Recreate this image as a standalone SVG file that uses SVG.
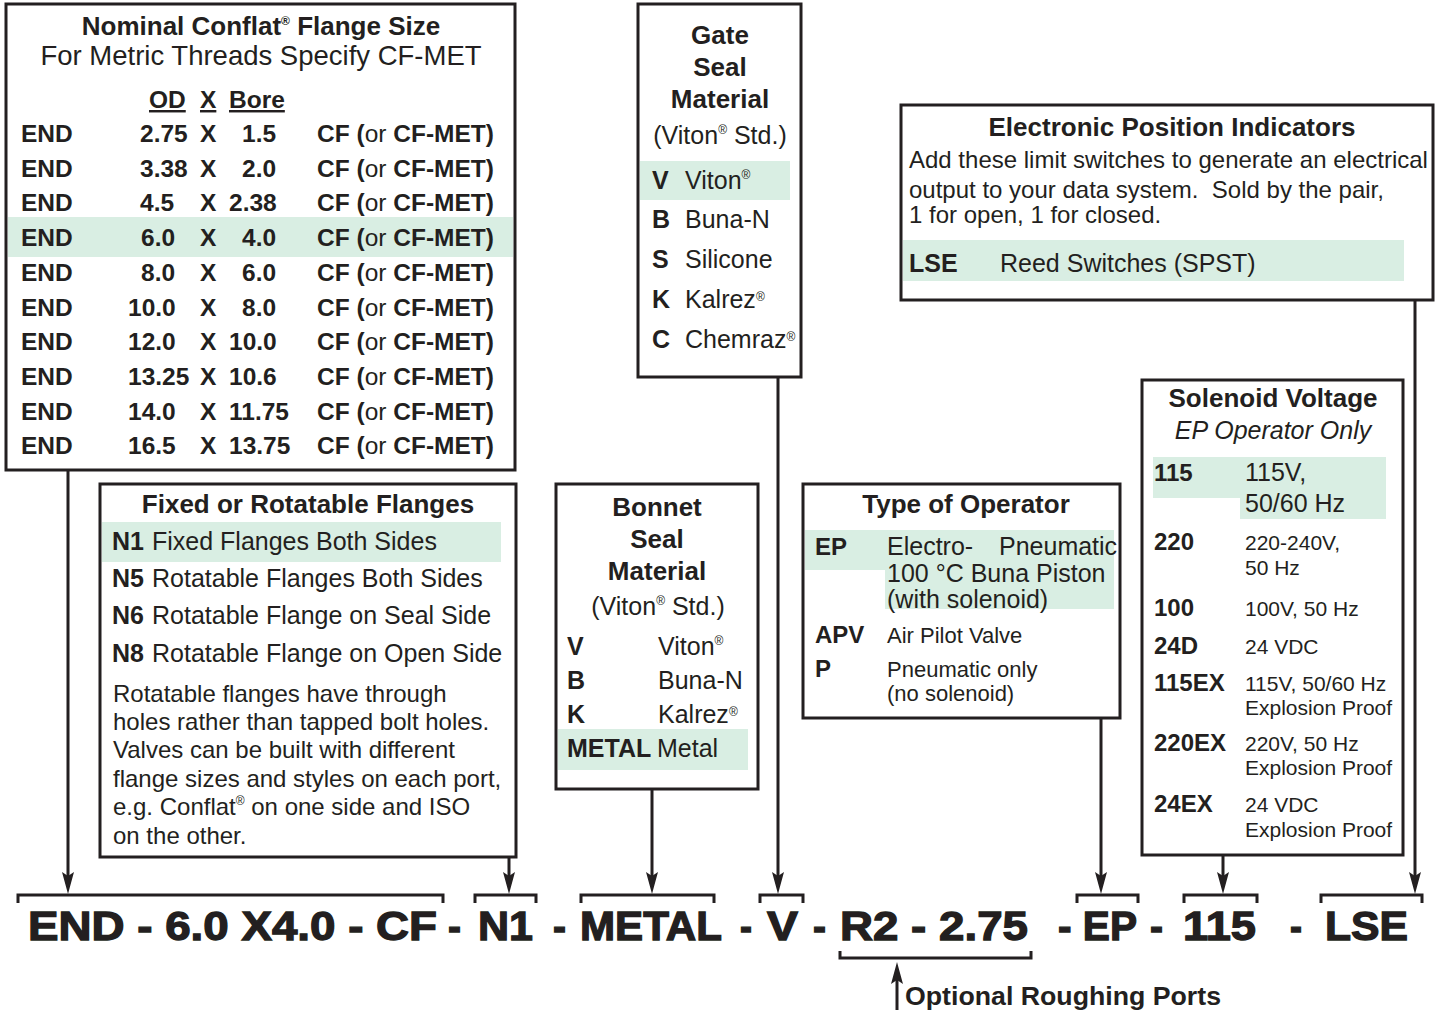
<svg xmlns="http://www.w3.org/2000/svg" width="1444" height="1010" viewBox="0 0 1444 1010">
<style>
.box{fill:#fff;stroke:#231f20;stroke-width:3}
.hl{fill:#d9eee3}
text{font-family:"Liberation Sans",Arial,Helvetica,sans-serif;fill:#231f20}
.b{font-weight:bold}
.n{font-weight:normal}
.ttl{font-size:26px;font-weight:bold;text-anchor:middle}
.s24{font-size:24px}
.s25{font-size:25px}
.s22{font-size:22px}
.s21{font-size:21px}
.row{font-size:24.5px;font-weight:bold}
.ul{text-decoration:underline}
.code{font-size:41px;font-weight:bold;stroke:#231f20;stroke-width:1.3}
.conn{stroke:#231f20;stroke-width:3;fill:none}
</style>
<defs>
<marker id="ah" viewBox="0 0 22 12" markerWidth="22" markerHeight="12" refX="14" refY="6" orient="auto" markerUnits="userSpaceOnUse"><path d="M0,0 L22,6 L0,12 L4,6 z" fill="#231f20"/></marker>
</defs>
<rect width="1444" height="1010" fill="#fff"/>

<g id="flange-size">
<rect class="box" x="6" y="4" width="509" height="466"/>
<rect class="hl" x="8" y="217" width="505" height="40"/>
<text class="ttl" x="261" y="35">Nominal Conflat<tspan font-size="12" dy="-10">®</tspan><tspan dy="10"> Flange Size</tspan></text>
<text x="261" y="65" text-anchor="middle" font-size="27.5px">For Metric Threads Specify CF-MET</text>
<text class="row ul" x="149" y="108">OD</text>
<text class="row ul" x="200" y="108">X</text>
<text class="row ul" x="229" y="108">Bore</text>
<g class="row">
<text y="142"><tspan x="21">END</tspan><tspan x="140">2.75</tspan><tspan x="200">X</tspan><tspan x="242">1.5</tspan><tspan x="317">CF (</tspan><tspan class="n">or</tspan><tspan> CF-MET)</tspan></text>
<text y="177"><tspan x="21">END</tspan><tspan x="140">3.38</tspan><tspan x="200">X</tspan><tspan x="242">2.0</tspan><tspan x="317">CF (</tspan><tspan class="n">or</tspan><tspan> CF-MET)</tspan></text>
<text y="211"><tspan x="21">END</tspan><tspan x="140">4.5</tspan><tspan x="200">X</tspan><tspan x="229">2.38</tspan><tspan x="317">CF (</tspan><tspan class="n">or</tspan><tspan> CF-MET)</tspan></text>
<text y="246"><tspan x="21">END</tspan><tspan x="141">6.0</tspan><tspan x="200">X</tspan><tspan x="242">4.0</tspan><tspan x="317">CF (</tspan><tspan class="n">or</tspan><tspan> CF-MET)</tspan></text>
<text y="281"><tspan x="21">END</tspan><tspan x="141">8.0</tspan><tspan x="200">X</tspan><tspan x="242">6.0</tspan><tspan x="317">CF (</tspan><tspan class="n">or</tspan><tspan> CF-MET)</tspan></text>
<text y="316"><tspan x="21">END</tspan><tspan x="128">10.0</tspan><tspan x="200">X</tspan><tspan x="242">8.0</tspan><tspan x="317">CF (</tspan><tspan class="n">or</tspan><tspan> CF-MET)</tspan></text>
<text y="350"><tspan x="21">END</tspan><tspan x="128">12.0</tspan><tspan x="200">X</tspan><tspan x="229">10.0</tspan><tspan x="317">CF (</tspan><tspan class="n">or</tspan><tspan> CF-MET)</tspan></text>
<text y="385"><tspan x="21">END</tspan><tspan x="128">13.25</tspan><tspan x="200">X</tspan><tspan x="229">10.6</tspan><tspan x="317">CF (</tspan><tspan class="n">or</tspan><tspan> CF-MET)</tspan></text>
<text y="420"><tspan x="21">END</tspan><tspan x="128">14.0</tspan><tspan x="200">X</tspan><tspan x="229">11.75</tspan><tspan x="317">CF (</tspan><tspan class="n">or</tspan><tspan> CF-MET)</tspan></text>
<text y="454"><tspan x="21">END</tspan><tspan x="128">16.5</tspan><tspan x="200">X</tspan><tspan x="229">13.75</tspan><tspan x="317">CF (</tspan><tspan class="n">or</tspan><tspan> CF-MET)</tspan></text>
</g>
</g>

<g id="gate-seal">
<rect class="box" x="638" y="4" width="163" height="373"/>
<rect class="hl" x="640" y="161" width="150" height="39"/>
<text class="ttl" x="720" y="44">Gate</text>
<text class="ttl" x="720" y="76">Seal</text>
<text class="ttl" x="720" y="108">Material</text>
<text class="s25" x="720" y="144" text-anchor="middle">(Viton<tspan font-size="12" dy="-10">®</tspan><tspan dy="10"> Std.)</tspan></text>
<g class="s25">
<text y="189"><tspan x="652" class="b">V</tspan><tspan x="685">Viton</tspan><tspan font-size="12" dy="-10">®</tspan></text>
<text y="228"><tspan x="652" class="b">B</tspan><tspan x="685">Buna-N</tspan></text>
<text y="268"><tspan x="652" class="b">S</tspan><tspan x="685">Silicone</tspan></text>
<text y="308"><tspan x="652" class="b">K</tspan><tspan x="685">Kalrez</tspan><tspan font-size="12" dy="-7">®</tspan></text>
<text y="348"><tspan x="652" class="b">C</tspan><tspan x="685">Chemraz</tspan><tspan font-size="12" dy="-7">®</tspan></text>
</g>
</g>

<g id="position-indicators">
<rect class="box" x="901" y="105" width="532" height="195"/>
<rect class="hl" x="903" y="240" width="501" height="41"/>
<text class="ttl" x="1172" y="136">Electronic Position Indicators</text>
<g class="s24">
<text x="909" y="168">Add these limit switches to generate an electrical</text>
<text x="909" y="198" xml:space="preserve">output to your data system.  Sold by the pair,</text>
<text x="909" y="223">1 for open, 1 for closed.</text>
</g>
<text class="s25" y="272"><tspan x="909" class="b">LSE</tspan><tspan x="1000">Reed Switches (SPST)</tspan></text>
</g>

<g id="flange-type">
<rect class="box" x="100" y="484" width="416" height="373"/>
<rect class="hl" x="102" y="522" width="399" height="40"/>
<text class="ttl" x="308" y="513">Fixed or Rotatable Flanges</text>
<g class="s25">
<text y="550"><tspan x="112" class="b">N1</tspan><tspan x="152">Fixed Flanges Both Sides</tspan></text>
<text y="587"><tspan x="112" class="b">N5</tspan><tspan x="152">Rotatable Flanges Both Sides</tspan></text>
<text y="624"><tspan x="112" class="b">N6</tspan><tspan x="152">Rotatable Flange on Seal Side</tspan></text>
<text y="662"><tspan x="112" class="b">N8</tspan><tspan x="152">Rotatable Flange on Open Side</tspan></text>
</g>
<g class="s24">
<text x="113" y="702">Rotatable flanges have through</text>
<text x="113" y="730">holes rather than tapped bolt holes.</text>
<text x="113" y="758">Valves can be built with different</text>
<text x="113" y="787">flange sizes and styles on each port,</text>
<text x="113" y="815">e.g. Conflat<tspan font-size="12" dy="-10">®</tspan><tspan dy="10"> on one side and ISO</tspan></text>
<text x="113" y="844">on the other.</text>
</g>
</g>

<g id="bonnet-seal">
<rect class="box" x="556" y="484" width="202" height="305"/>
<rect class="hl" x="558" y="729" width="190" height="41"/>
<text class="ttl" x="657" y="516">Bonnet</text>
<text class="ttl" x="657" y="548">Seal</text>
<text class="ttl" x="657" y="580">Material</text>
<text class="s25" x="658" y="615" text-anchor="middle">(Viton<tspan font-size="12" dy="-10">®</tspan><tspan dy="10"> Std.)</tspan></text>
<g class="s25">
<text y="655"><tspan x="567" class="b">V</tspan><tspan x="658">Viton</tspan><tspan font-size="12" dy="-10">®</tspan></text>
<text y="689"><tspan x="567" class="b">B</tspan><tspan x="658">Buna-N</tspan></text>
<text y="723"><tspan x="567" class="b">K</tspan><tspan x="658">Kalrez</tspan><tspan font-size="12" dy="-7">®</tspan></text>
<text y="757"><tspan x="567" class="b">METAL</tspan><tspan x="657">Metal</tspan></text>
</g>
</g>

<g id="operator-type">
<rect class="box" x="803" y="484" width="317" height="234"/>
<rect class="hl" x="805" y="530" width="309" height="40"/>
<rect class="hl" x="885" y="570" width="229" height="39"/>
<text class="ttl" x="966" y="513">Type of Operator</text>
<text class="b s24" x="815" y="555">EP</text>
<g class="s25">
<text y="555"><tspan x="887">Electro-</tspan><tspan x="999">Pneumatic</tspan></text>
<text x="887" y="582">100 °C Buna Piston</text>
<text x="887" y="608">(with solenoid)</text>
</g>
<text class="b s24" x="815" y="643">APV</text>
<text class="s22" x="887" y="643">Air Pilot Valve</text>
<text class="b s24" x="815" y="677">P</text>
<text class="s22" x="887" y="677">Pneumatic only</text>
<text class="s22" x="887" y="701">(no solenoid)</text>
</g>

<g id="solenoid-voltage">
<rect class="box" x="1142" y="380" width="261" height="475"/>
<rect class="hl" x="1153" y="457" width="233" height="41"/>
<rect class="hl" x="1240" y="498" width="146" height="21"/>
<text class="ttl" x="1273" y="407">Solenoid Voltage</text>
<text class="s25" x="1273" y="439" text-anchor="middle" font-style="italic">EP Operator Only</text>
<g class="b s24">
<text x="1154" y="481">115</text>
<text x="1154" y="550">220</text>
<text x="1154" y="616">100</text>
<text x="1154" y="654">24D</text>
<text x="1154" y="691">115EX</text>
<text x="1154" y="751">220EX</text>
<text x="1154" y="812">24EX</text>
</g>
<text class="s25" x="1245" y="481">115V,</text>
<text class="s25" x="1245" y="512">50/60 Hz</text>
<g class="s21">
<text x="1245" y="550">220-240V,</text>
<text x="1245" y="575">50 Hz</text>
<text x="1245" y="616">100V, 50 Hz</text>
<text x="1245" y="654">24 VDC</text>
<text x="1245" y="691">115V, 50/60 Hz</text>
<text x="1245" y="715">Explosion Proof</text>
<text x="1245" y="751">220V, 50 Hz</text>
<text x="1245" y="775">Explosion Proof</text>
<text x="1245" y="812">24 VDC</text>
<text x="1245" y="837">Explosion Proof</text>
</g>
</g>

<g id="connectors" class="conn">
<line x1="68" y1="470" x2="68" y2="886" marker-end="url(#ah)"/>
<line x1="509" y1="857" x2="509" y2="886" marker-end="url(#ah)"/>
<line x1="652" y1="789" x2="652" y2="886" marker-end="url(#ah)"/>
<line x1="778" y1="377" x2="778" y2="886" marker-end="url(#ah)"/>
<line x1="1101" y1="718" x2="1101" y2="886" marker-end="url(#ah)"/>
<line x1="1223" y1="855" x2="1223" y2="886" marker-end="url(#ah)"/>
<line x1="1415" y1="300" x2="1415" y2="886" marker-end="url(#ah)"/>
<line x1="897" y1="1012" x2="897" y2="970" marker-end="url(#ah)"/>
<path d="M18,903 V895 H443 V903"/>
<path d="M475,903 V895 H536 V903"/>
<path d="M581,903 V895 H714 V903"/>
<path d="M760,903 V895 H803 V903"/>
<path d="M1077,903 V895 H1138 V903"/>
<path d="M1184,903 V895 H1257 V903"/>
<path d="M1321,903 V895 H1422 V903"/>
<path d="M840,951 V958 H1031 V951"/>
</g>

<g id="order-code" class="code">
<text x="28" y="940" textLength="409" lengthAdjust="spacingAndGlyphs">END - 6.0 X4.0 - CF</text>
<text x="448" y="940" textLength="13" lengthAdjust="spacingAndGlyphs">-</text>
<text x="478" y="940" textLength="55" lengthAdjust="spacingAndGlyphs">N1</text>
<text x="553" y="940" textLength="13" lengthAdjust="spacingAndGlyphs">-</text>
<text x="580" y="940" textLength="142" lengthAdjust="spacingAndGlyphs">METAL</text>
<text x="740" y="940" textLength="12" lengthAdjust="spacingAndGlyphs">-</text>
<text x="767" y="940" textLength="31" lengthAdjust="spacingAndGlyphs">V</text>
<text x="813" y="940" textLength="13" lengthAdjust="spacingAndGlyphs">-</text>
<text x="840" y="940" textLength="188" lengthAdjust="spacingAndGlyphs">R2 - 2.75</text>
<text x="1058" y="940" textLength="79" lengthAdjust="spacingAndGlyphs">- EP</text>
<text x="1150" y="940" textLength="13" lengthAdjust="spacingAndGlyphs">-</text>
<text x="1183" y="940" textLength="73" lengthAdjust="spacingAndGlyphs">115</text>
<text x="1290" y="940" textLength="12" lengthAdjust="spacingAndGlyphs">-</text>
<text x="1325" y="940" textLength="83" lengthAdjust="spacingAndGlyphs">LSE</text>
</g>
<text class="b" x="905" y="1005" font-size="25px" textLength="316" lengthAdjust="spacingAndGlyphs">Optional Roughing Ports</text>
</svg>
